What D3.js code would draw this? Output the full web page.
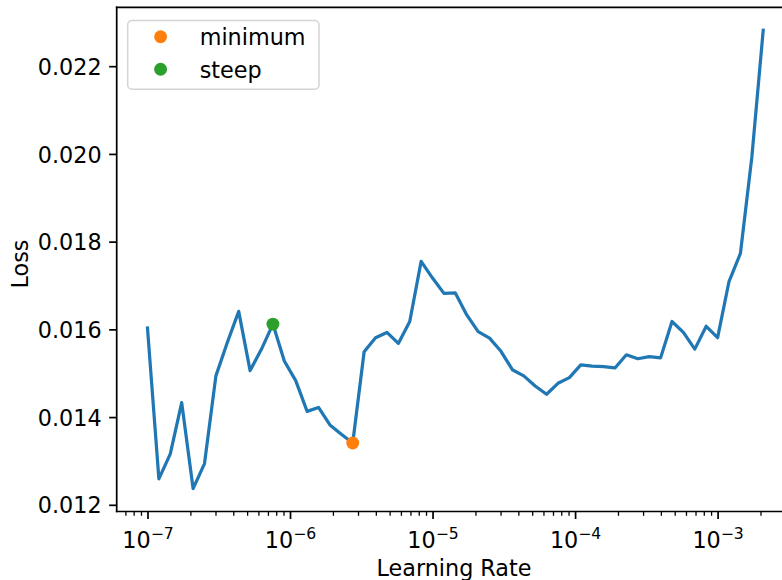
<!DOCTYPE html>
<html>
<head>
<meta charset="utf-8">
<script src="https://cdn.jsdelivr.net/npm/d3@7"></script>
<style>
  html, body { margin: 0; padding: 0; background: #fff; }
  svg { display: block; font-family: "DejaVu Sans", sans-serif; }
</style>
</head>
<body>
<svg id="chart" width="782" height="580"></svg>
<script>
// Learning-rate finder run: exponentially spaced learning rates and recorded loss
const learningRates = [
  1.0000e-7, 1.2023e-7, 1.4454e-7, 1.7378e-7, 2.0893e-7, 2.5119e-7, 3.0200e-7, 3.6308e-7,
  4.3652e-7, 5.2481e-7, 6.3096e-7, 7.5858e-7, 9.1201e-7, 1.0965e-6, 1.3183e-6, 1.5849e-6,
  1.9055e-6, 2.2909e-6, 2.7542e-6, 3.3113e-6, 3.9811e-6, 4.7863e-6, 5.7544e-6, 6.9183e-6,
  8.3176e-6, 1.0000e-5, 1.2023e-5, 1.4454e-5, 1.7378e-5, 2.0893e-5, 2.5119e-5, 3.0200e-5,
  3.6308e-5, 4.3652e-5, 5.2481e-5, 6.3096e-5, 7.5858e-5, 9.1201e-5, 1.0965e-4, 1.3183e-4,
  1.5849e-4, 1.9055e-4, 2.2909e-4, 2.7542e-4, 3.3113e-4, 3.9811e-4, 4.7863e-4, 5.7544e-4,
  6.9183e-4, 8.3176e-4, 1.0000e-3, 1.2023e-3, 1.4454e-3, 1.7378e-3, 2.0893e-3
];
const losses = [
  0.01603, 0.01259, 0.01316, 0.01433, 0.01237, 0.01294, 0.01494, 0.01570,
  0.01641, 0.01506, 0.01555, 0.01612, 0.01528, 0.01483, 0.01413, 0.01422,
  0.01382, 0.01361, 0.01341, 0.01549, 0.01581, 0.01593, 0.01568, 0.01618,
  0.01755, 0.01717, 0.01682, 0.01683, 0.01633, 0.01595, 0.01580, 0.01550,
  0.01508, 0.01494, 0.01471, 0.01452, 0.01477, 0.01490, 0.01519, 0.01516,
  0.01515, 0.01512, 0.01542, 0.01533, 0.01538, 0.01535, 0.01618, 0.01593,
  0.01555, 0.01607, 0.01581, 0.01709, 0.01773, 0.01992, 0.02282
];

// Suggested learning rates shown as markers
const suggestionNames = ["minimum", "steep"];
const suggestionLr = [2.7542e-6, 7.5858e-7];
const suggestionLoss = [0.01341, 0.01612];
const suggestionColors = ["#ff7f0e", "#2ca02c"];

// Tick values
const xMajorTicks = [1e-7, 1e-6, 1e-5, 1e-4, 1e-3];
const xTickExponents = ["7", "6", "5", "4", "3"];
const yTicks = [0.012, 0.014, 0.016, 0.018, 0.020, 0.022];

const pt = 2.15;               // pixels per point
const fontSize = 22.3;
const plot = { left: 116.7, top: 7.3, bottom: 511.5, right: 794 };

const svg = d3.select("#chart");

// Axis limits with a 5% margin (log space on x)
const lxMin = Math.log10(d3.min(learningRates)), lxMax = Math.log10(d3.max(learningRates));
const lxPad = 0.05 * (lxMax - lxMin);
const x = d3.scaleLog()
  .domain([Math.pow(10, lxMin - lxPad), Math.pow(10, lxMax + lxPad)])
  .range([plot.left, plot.right]);

const yMin = d3.min(losses), yMax = d3.max(losses);
const yPad = 0.05 * (yMax - yMin);
const y = d3.scaleLinear()
  .domain([yMin - yPad, yMax + yPad])
  .range([plot.bottom, plot.top]);

// Minor ticks on the log axis (2..9 times each power of ten)
const [dLo, dHi] = x.domain();
const xMinorTicks = [];
for (let e = -8; e <= -2; e++) {
  for (let m = 2; m <= 9; m++) {
    const v = m * Math.pow(10, e);
    if (v >= dLo && v <= dHi) xMinorTicks.push(v);
  }
}

// Loss curve
svg.append("path")
  .datum(learningRates.map((lr, i) => [lr, losses[i]]))
  .attr("fill", "none")
  .attr("stroke", "#1f77b4")
  .attr("stroke-width", 1.5 * pt)
  .attr("stroke-linejoin", "round")
  .attr("stroke-linecap", "square")
  .attr("d", d3.line().x(d => x(d[0])).y(d => y(d[1])));

// Suggestion markers
svg.append("g").selectAll("circle")
  .data(suggestionNames.map((n, i) => ({ lr: suggestionLr[i], loss: suggestionLoss[i], color: suggestionColors[i] })))
  .join("circle")
  .attr("cx", d => x(d.lr))
  .attr("cy", d => y(d.loss))
  .attr("r", 3 * pt)
  .attr("fill", d => d.color);

// X axis: minor ticks
svg.append("g")
  .attr("transform", `translate(0,${plot.bottom})`)
  .call(d3.axisBottom(x).tickValues(xMinorTicks).tickSize(2 * pt).tickSizeOuter(0).tickFormat(""))
  .call(g => g.select(".domain").remove())
  .call(g => g.selectAll(".tick line").attr("stroke", "#000").attr("stroke-width", 0.6 * pt));

// X axis: major ticks with power-of-ten labels
const xAxisG = svg.append("g")
  .attr("transform", `translate(0,${plot.bottom})`)
  .call(d3.axisBottom(x).tickValues(xMajorTicks).tickSize(3.5 * pt).tickSizeOuter(0).tickFormat(""))
  .call(g => g.select(".domain").remove())
  .call(g => g.selectAll(".tick line").attr("stroke", "#000").attr("stroke-width", 0.8 * pt));

xAxisG.selectAll(".tick").each(function (d, i) {
  const t = d3.select(this).append("text")
    .attr("y", 36.2)
    .attr("fill", "#000")
    .attr("text-anchor", "middle")
    .attr("font-size", fontSize)
    .attr("font-family", "DejaVu Sans, sans-serif");
  t.append("tspan").text("10");
  t.append("tspan")
    .attr("font-size", fontSize * 0.7)
    .attr("dy", -8.6)
    .text("\u2212" + xTickExponents[i]);
});

// Y axis
svg.append("g")
  .attr("transform", `translate(${plot.left},0)`)
  .call(d3.axisLeft(y).tickValues(yTicks).tickSize(3.5 * pt).tickPadding(3.5 * pt).tickSizeOuter(0)
    .tickFormat(d3.format(".3f")))
  .call(g => g.select(".domain").remove())
  .call(g => g.selectAll(".tick line").attr("stroke", "#000").attr("stroke-width", 0.8 * pt))
  .call(g => g.selectAll(".tick text")
    .attr("fill", "#000")
    .attr("font-size", fontSize)
    .attr("font-family", "DejaVu Sans, sans-serif")
    .attr("dy", "0.363em"));

// Spines
const spines = svg.append("g").attr("stroke", "#000").attr("stroke-width", 0.8 * pt).attr("stroke-linecap", "square");
spines.append("line").attr("x1", plot.left).attr("x2", plot.left).attr("y1", plot.top).attr("y2", plot.bottom);
spines.append("line").attr("x1", plot.left).attr("x2", plot.right).attr("y1", plot.bottom).attr("y2", plot.bottom);
spines.append("line").attr("x1", plot.left).attr("x2", plot.right).attr("y1", plot.top).attr("y2", plot.top);
spines.append("line").attr("x1", plot.right).attr("x2", plot.right).attr("y1", plot.top).attr("y2", plot.bottom);

// Axis titles
svg.append("text")
  .attr("x", 454)
  .attr("y", 576)
  .attr("text-anchor", "middle")
  .attr("font-size", fontSize)
  .attr("fill", "#000")
  .text("Learning Rate");

svg.append("text")
  .attr("transform", `translate(28.3,264) rotate(-90)`)
  .attr("text-anchor", "middle")
  .attr("font-size", fontSize)
  .attr("fill", "#000")
  .text("Loss");

// Legend
const legend = svg.append("g");
legend.append("rect")
  .attr("x", 127.7).attr("y", 20.5)
  .attr("width", 191.3).attr("height", 68.8)
  .attr("rx", 4.3)
  .attr("fill", "#fff").attr("fill-opacity", 0.8)
  .attr("stroke", "#d4d4d4").attr("stroke-width", 1.5);
const legendRowY = [36.7, 69.3];
suggestionNames.forEach((name, i) => {
  legend.append("circle")
    .attr("cx", 160.6).attr("cy", legendRowY[i])
    .attr("r", 3 * pt)
    .attr("fill", suggestionColors[i]);
  legend.append("text")
    .attr("x", 199.7).attr("y", legendRowY[i] + 8.6)
    .attr("font-size", fontSize)
    .attr("fill", "#000")
    .text(name);
});
</script>
</body>
</html>
